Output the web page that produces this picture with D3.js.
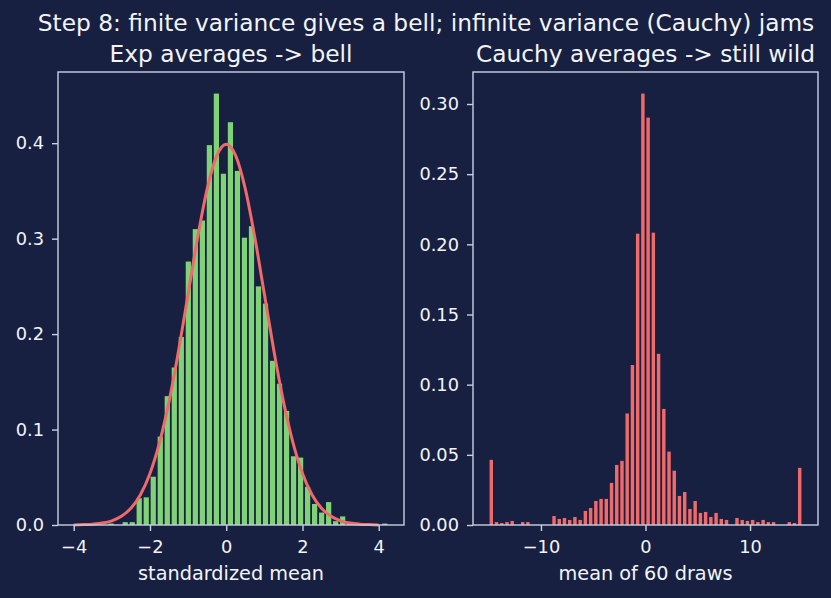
<!DOCTYPE html>
<html>
<head>
<meta charset="utf-8">
<script src="https://cdn.jsdelivr.net/npm/d3@7"></script>
<style>
  body { margin: 0; background: #172041; }
  svg { display: block; font-family: "DejaVu Sans", sans-serif; }
  .tick text { fill: #f2f4f8; }
</style>
</head>
<body>
<svg></svg>
<script>
var W = 831, H = 598;

// left panel: standardized means of exponential samples
var expBinStart = -3.11;
var expBinWidth = 0.184;
var expDensity = [
  0.0015, 0, 0.003, 0.003, 0.028, 0.029, 0.0506, 0.0926, 0.135, 0.165,
  0.197, 0.276, 0.310, 0.319, 0.398, 0.452, 0.368, 0.422, 0.371, 0.301,
  0.313, 0.250, 0.232, 0.172, 0.148, 0.1195, 0.072, 0.0706, 0.040, 0.022,
  0.013, 0.024, 0.004, 0.009, 0.0015, 0, 0.0015, 0, 0, 0.0015
];
// normal curve
var bellX = [-4, -3.75, -3.5, -3.25, -3, -2.75, -2.5, -2.25, -2, -1.75, -1.5, -1.25, -1, -0.75, -0.5, -0.25,
  0, 0.25, 0.5, 0.75, 1, 1.25, 1.5, 1.75, 2, 2.25, 2.5, 2.75, 3, 3.25, 3.5, 3.75, 4];
var bellY = [0.0001, 0.0004, 0.0009, 0.0020, 0.0044, 0.0091, 0.0175, 0.0317, 0.0540, 0.0863, 0.1295, 0.1826, 0.2420, 0.3011, 0.3521, 0.3867,
  0.3989, 0.3867, 0.3521, 0.3011, 0.2420, 0.1826, 0.1295, 0.0863, 0.0540, 0.0317, 0.0175, 0.0091, 0.0044, 0.0020, 0.0009, 0.0004, 0.0001];
var expXTicks = [-4, -2, 0, 2, 4];
var expYTicks = [0, 0.1, 0.2, 0.3, 0.4];

// right panel: cauchy means clipped to [-15, 15]
var cauchyBinStart = -15;
var cauchyBinWidth = 0.5;
var cauchyDensity = [
  0.0464, 0.0021, 0.0014, 0.0021, 0.0029, 0, 0.0021, 0.0021, 0, 0,
  0, 0, 0.0064, 0.0043, 0.005, 0.0036, 0.0057, 0.0036, 0.010, 0.0121,
  0.0171, 0.0186, 0.0186, 0.030, 0.0428, 0.0457, 0.0795, 0.114, 0.2076, 0.3074,
  0.2903, 0.2083, 0.122, 0.0827, 0.0523, 0.0387, 0.0207, 0.0235, 0.0114, 0.0171,
  0.0086, 0.0093, 0.0057, 0.0086, 0.0043, 0.0036, 0, 0.005, 0.0036, 0.0029,
  0.0036, 0.0021, 0.0036, 0.0021, 0.0021, 0, 0, 0.0021, 0.0014, 0.0407
];
var cauchyXTicks = [-10, 0, 10];
var cauchyYTicks = [0, 0.05, 0.1, 0.15, 0.2, 0.25, 0.3];

var bg = "#172041", spine = "#c8d0e2", textCol = "#f2f4f8";
var green = "#80d277", red = "#f06a6a";
var tickFont = 17.8, labelFont = 19.3, titleFont = 23.3;

const svg = d3.select("svg").attr("width", W).attr("height", H);
svg.append("rect").attr("width", W).attr("height", H).attr("fill", bg);

svg.append("text")
    .attr("x", 426).attr("y", 31)
    .attr("text-anchor", "middle")
    .attr("fill", textCol)
    .style("font-size", titleFont + "px")
    .text("Step 8: finite variance gives a bell; infinite variance (Cauchy) jams");

function panel(opts) {
    const g = svg.append("g");
    const x = d3.scaleLinear().domain(opts.xDomain).range([opts.left, opts.right]);
    const y = d3.scaleLinear().domain(opts.yDomain).range([opts.bottom, opts.top]);

    const bins = opts.density.map((d, i) => ({
        x0: opts.binStart + i * opts.binWidth,
        x1: opts.binStart + (i + 1) * opts.binWidth,
        v: d
    }));
    const gap = 1.8;

    g.selectAll(".bar")
        .data(bins.filter(b => b.v > 0))
        .enter().append("rect")
        .attr("class", "bar")
        .attr("x", d => x(d.x0) + gap / 2)
        .attr("y", d => y(d.v))
        .attr("width", d => x(d.x1) - x(d.x0) - gap)
        .attr("height", d => y(0) - y(d.v))
        .attr("fill", opts.color);

    if (opts.curveX) {
        const line = d3.line()
            .x((d, i) => x(opts.curveX[i]))
            .y(d => y(d))
            .curve(d3.curveMonotoneX);
        g.append("path")
            .datum(opts.curveY)
            .attr("d", line)
            .attr("fill", "none")
            .attr("stroke", red)
            .attr("stroke-width", 3);
    }

    const xa = g.append("g")
        .attr("transform", `translate(0,${opts.bottom})`)
        .call(d3.axisBottom(x).tickValues(opts.xTicks).tickSize(6).tickPadding(9));
    const ya = g.append("g")
        .attr("transform", `translate(${opts.left},0)`)
        .call(d3.axisLeft(y).tickValues(opts.yTicks).tickFormat(d3.format(opts.yFmt)).tickSize(6).tickPadding(8));
    [xa, ya].forEach(a => {
        a.select(".domain").remove();
        a.selectAll(".tick line").attr("stroke", spine).attr("stroke-width", 1.4);
        a.selectAll(".tick text").style("font-size", tickFont + "px").style("font-family", "DejaVu Sans");
    });

    g.append("rect")
        .attr("x", opts.left).attr("y", opts.top)
        .attr("width", opts.right - opts.left)
        .attr("height", opts.bottom - opts.top)
        .attr("fill", "none")
        .attr("stroke", spine)
        .attr("stroke-width", 1.4);

    const cx = (opts.left + opts.right) / 2;
    g.append("text")
        .attr("x", cx).attr("y", 61.5)
        .attr("text-anchor", "middle")
        .attr("fill", textCol)
        .style("font-size", titleFont + "px")
        .text(opts.title);
    g.append("text")
        .attr("x", cx).attr("y", 580)
        .attr("text-anchor", "middle")
        .attr("fill", textCol)
        .style("font-size", labelFont + "px")
        .text(opts.xLabel);
}

panel({
    left: 58, right: 404, top: 72, bottom: 525,
    xDomain: [-4.4125, 4.6625], yDomain: [0, 0.4746],
    binStart: expBinStart, binWidth: expBinWidth, density: expDensity,
    color: green, curveX: bellX, curveY: bellY,
    xTicks: expXTicks, yTicks: expYTicks, yFmt: ".1f",
    title: "Exp averages -> bell", xLabel: "standardized mean"
});

panel({
    left: 473, right: 818, top: 72, bottom: 525,
    xDomain: [-16.5, 16.5], yDomain: [0, 0.3228],
    binStart: cauchyBinStart, binWidth: cauchyBinWidth, density: cauchyDensity,
    color: red,
    xTicks: cauchyXTicks, yTicks: cauchyYTicks, yFmt: ".2f",
    title: "Cauchy averages -> still wild", xLabel: "mean of 60 draws"
});
</script>
</body>
</html>
